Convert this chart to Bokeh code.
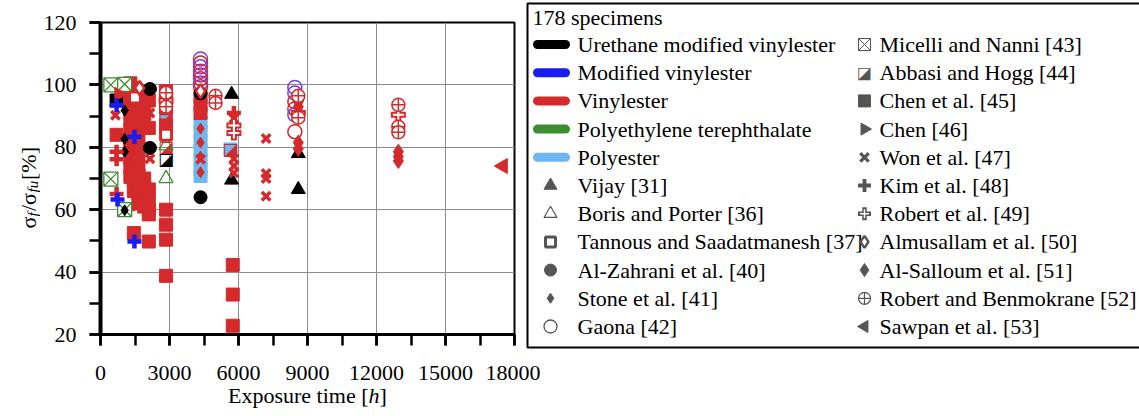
import math

from bokeh.core.properties import value
from bokeh.embed import file_html
from bokeh.layouts import column, row
from bokeh.models import ColumnDataSource, Range1d, SingleIntervalTicker
from bokeh.plotting import figure
from bokeh.resources import INLINE

# ---------------------------------------------------------------- data
# material of every specimen -> colour
MATERIAL_COLORS = {
    "UMV": "#000000",    # urethane modified vinylester
    "MV": "#1a1af2",     # modified vinylester
    "MV_open": "#7b3fd9",  # modified vinylester, open circles
    "VE": "#d42a2c",     # vinylester
    "PET": "#3c8c30",    # polyethylene terephthalate
    "PE": "#6db8f0",     # polyester
}
MATERIAL_KEYS = ["UMV", "MV", "VE", "PET", "PE"]
MATERIAL_NAMES = ["Urethane modified vinylester", "Modified vinylester", "Vinylester",
                  "Polyethylene terephthalate", "Polyester"]

# exposure time [h], retained strength [%], material
VIJAY_X = [5700, 5700, 8600, 8600]
VIJAY_Y = [97.0, 69.5, 66.5, 78.0]
VIJAY_M = ["UMV", "UMV", "UMV", "UMV"]

BORIS_X = [2850, 2850]
BORIS_Y = [70.0, 80.5]
BORIS_M = ["PET", "PET"]

TANNOUS_X = [2850, 2850, 1500]
TANNOUS_Y = [84.0, 92.5, 96.0]
TANNOUS_M = ["VE", "VE", "VE"]

ALZAHRANI_X = [2150, 2150, 4350, 4350]
ALZAHRANI_Y = [98.7, 79.8, 64.0, 97.3]
ALZAHRANI_M = ["UMV", "UMV", "UMV", "UMV"]

STONE_X = [1050, 1050, 1050, 1050, 4350, 4350, 4350, 4350]
STONE_Y = [91.8, 82.7, 78.6, 59.8, 86.0, 81.5, 77.0, 72.0]
STONE_M = ["UMV", "UMV", "UMV", "UMV", "VE", "VE", "VE", "VE"]

GAONA_X = [4350, 4350, 4350, 4350, 4350, 4350, 4350, 4350,
           8450, 8450, 8450, 8450, 8450, 8450]
GAONA_Y = [108.3, 107.0, 105.8, 104.4, 103.2, 102.0, 100.6, 99.4,
           99.2, 97.4, 94.6, 92.3, 90.4, 85.0]
GAONA_M = ["MV_open", "VE", "MV_open", "VE", "MV_open", "VE", "MV_open", "VE",
           "MV_open", "MV_open", "VE", "VE", "MV_open", "VE"]

MICELLI_X = [450, 1050, 450, 1050]
MICELLI_Y = [100.0, 100.2, 69.8, 60.0]
MICELLI_M = ["PET", "PET", "PET", "PET"]

ABBASI_X = [2850, 2850, 2850, 5650]
ABBASI_Y = [89.6, 80.2, 76.3, 79.3]
ABBASI_M = ["VE", "VE", "UMV", "VE"]

CHEN45_X = [700, 2850, 5650,
            4350, 4350, 4350, 4350, 4350, 4350, 4350,
            700,
            1300, 1300, 1300, 1300, 1300, 1300, 1300, 1300, 1300, 1300, 1300,
            1450, 1450, 1450, 1450, 1450, 1450, 1450, 1450, 1450, 1450, 1450, 1450,
            1650, 1650, 1650, 1650, 1650, 1650, 1650, 1650, 1650, 1650, 1650, 1650, 1650,
            1900, 1900, 1900, 1900, 1900, 1900, 1900, 1900,
            2100, 2100, 2100, 2100, 2100, 2100, 2100,
            2850, 2850, 2850, 2850, 2850, 2850, 2850,
            4350, 4350, 4350,
            5750, 5750, 5750]
CHEN45_Y = [95.0, 89.6, 79.3,
            88.0, 85.0, 82.0, 79.0, 76.0, 73.0, 70.8,
            84.0,
            100.5, 97.5, 94.5, 91.5, 88.5, 85.5, 82.5, 79.5, 76.5, 73.5, 70.5,
            99.0, 96.0, 93.0, 90.0, 87.0, 81.0, 78.0, 75.0, 72.0, 69.0, 66.0, 52.5,
            98.0, 95.0, 92.0, 89.0, 86.0, 83.0, 80.0, 77.0, 74.0, 71.0, 68.0, 65.0, 62.0,
            97.0, 94.0, 91.0, 88.0, 70.0, 67.0, 64.0, 61.0,
            95.0, 86.2, 66.5, 63.0, 60.0, 58.5, 49.8,
            98.0, 95.5, 87.0, 60.0, 55.2, 50.4, 38.8,
            96.0, 93.5, 91.0,
            42.3, 32.8, 22.8]
CHEN45_M = (["UMV", "PE", "PE"] + ["PE"] * 7 + ["VE"]
            + ["VE"] * 11 + ["VE"] * 12 + ["VE"] * 13 + ["VE"] * 8
            + ["VE"] * 7 + ["VE"] * 7 + ["VE"] * 3 + ["VE"] * 3)

CHEN46_X = [800, 1600]
CHEN46_Y = [97.0, 61.8]
CHEN46_M = ["VE", "VE"]

WON_X = [650, 1350, 1450, 1800, 2150, 2150, 1500, 4350,
         5800, 5800, 5800, 5800, 7200, 7200, 7200, 7200]
WON_Y = [90.3, 86.6, 90.0, 93.0, 91.0, 76.3, 74.0, 76.2,
         89.2, 76.3, 74.0, 71.8, 82.8, 71.6, 70.0, 64.3]
WON_M = ["VE"] * 16

KIM_X = [700, 700, 700, 5800, 700, 740, 1475, 1475]
KIM_Y = [78.6, 76.2, 65.0, 91.0, 93.5, 63.3, 83.4, 49.8]
KIM_M = ["VE", "VE", "VE", "VE", "MV", "MV", "MV", "MV"]

ROBERT_X = [5800, 5800, 8600, 12950, 2850]
ROBERT_Y = [87.0, 84.6, 91.0, 90.4, 95.0]
ROBERT_M = ["VE"] * 5

ALMUSALLAM_X = [2850, 4350, 8600, 1700]
ALMUSALLAM_Y = [97.0, 98.0, 95.0, 99.0]
ALMUSALLAM_M = ["VE"] * 4

ALSALLOUM_X = [12950, 12950, 12950, 8600, 8600, 8600]
ALSALLOUM_Y = [78.6, 77.0, 75.6, 81.5, 79.5, 93.0]
ALSALLOUM_M = ["VE"] * 6

ROBBEN_X = [12950, 12950, 12950, 5000, 5000, 8600, 8600, 2850, 2850]
ROBBEN_Y = [93.6, 86.6, 84.8, 96.5, 94.2, 96.5, 89.5, 97.5, 93.0]
ROBBEN_M = ["VE"] * 9

SAWPAN_X = [17500]
SAWPAN_Y = [74.0]
SAWPAN_M = ["VE"]

SPECIMEN_COUNT = "178 specimens"
STUDIES_COL1 = ["Vijay [31]", "Boris and Porter [36]", "Tannous and Saadatmanesh [37]",
                "Al-Zahrani et al. [40]", "Stone et al. [41]", "Gaona [42]"]
STUDIES_COL2 = ["Micelli and Nanni [43]", "Abbasi and Hogg [44]", "Chen et al. [45]",
                "Chen [46]", "Won et al. [47]", "Kim et al. [48]", "Robert et al. [49]",
                "Almusallam et al. [50]", "Al-Salloum et al. [51]",
                "Robert and Benmokrane [52]", "Sawpan et al. [53]"]
X_TICK_STEP = 3000
Y_TICK_STEP = 20

# ---------------------------------------------------------------- sizes
SERIF = "Liberation Serif"
GREY = "#555555"
PAGE_W, PAGE_H = 1139, 416
YTITLE_W = 40            # strip left of the chart holding the y title
XTITLE_H = 30            # room below the chart for the x title
XTITLE_OVERLAP = 14      # x-title strip slides up under the tick labels
MAIN_W = 500             # chart incl. tick labels
MAIN_H = PAGE_H - XTITLE_H
KEY_OVERLAP = 16         # key panel slides under the last tick label
KEY_X0 = YTITLE_W + MAIN_W - KEY_OVERLAP
KEY_W = PAGE_W - KEY_X0

# ---------------------------------------------------------------- chart
p = figure(width=MAIN_W, height=MAIN_H, title=None,
           x_range=Range1d(0, 18000), y_range=Range1d(20, 120),
           output_backend="svg", toolbar_location=None, frame_align=False,
           min_border_left=99 - YTITLE_W, min_border_right=YTITLE_W + MAIN_W - 514,
           min_border_top=22, min_border_bottom=MAIN_H - 334)
p.background_fill_color = "white"
p.border_fill_color = "white"
p.outline_line_color = "black"
p.outline_line_width = 2

xt = SingleIntervalTicker(interval=X_TICK_STEP, num_minor_ticks=2)
yt = SingleIntervalTicker(interval=Y_TICK_STEP, num_minor_ticks=2)
p.xaxis.ticker = xt
p.yaxis.ticker = yt
p.xgrid.ticker = xt
p.ygrid.ticker = yt
p.grid.grid_line_color = "#8c8c8c"
p.grid.grid_line_width = 1

for ax in (p.xaxis[0], p.yaxis[0]):
    ax.major_tick_in = 0
    ax.major_tick_out = 11
    ax.minor_tick_in = 0
    ax.minor_tick_out = 11
    ax.major_tick_line_width = 2.5
    ax.minor_tick_line_width = 2.5
    ax.major_tick_line_color = "black"
    ax.minor_tick_line_color = "black"
    ax.axis_line_color = "black"
    ax.major_label_text_font = SERIF
    ax.major_label_text_color = "black"
    ax.major_label_text_font_size = "22px"
p.xaxis.axis_line_width = 3
p.yaxis.axis_line_width = 4
p.xaxis.major_label_standoff = 20
p.yaxis.major_label_standoff = 13


def source(xs, ys, ms, **extra):
    data = dict(x=xs, y=ys, c=[MATERIAL_COLORS[m] for m in ms])
    data.update(extra)
    return ColumnDataSource(data)


# filled squares
p.scatter("x", "y", source=source(CHEN45_X, CHEN45_Y, CHEN45_M), marker="square",
          size=13, fill_color="c", line_color="c")
# crossed open squares
p.scatter("x", "y", source=source(MICELLI_X, MICELLI_Y, MICELLI_M), marker="square_x",
          size=14, fill_color="white", line_color="c", line_width=1.3)
# half-filled squares
p.text("x", "y", text="t", source=source(ABBASI_X, ABBASI_Y, ABBASI_M, t=["\u25EA"] * len(ABBASI_X)),
       text_font=value("DejaVu Sans"), text_font_size=value("17px"),
       text_align="center", text_baseline="middle", text_color="c")
# open triangles
p.scatter("x", "y", source=source(BORIS_X, BORIS_Y, BORIS_M), marker="triangle",
          size=14, fill_color="white", fill_alpha=0, line_color="c", line_width=1.3)
# squares with hollow centre
p.scatter("x", "y", source=source(TANNOUS_X, TANNOUS_Y, TANNOUS_M), marker="square",
          size=11, fill_color="white", line_color="c", line_width=3)
# open circles
p.scatter("x", "y", source=source(GAONA_X, GAONA_Y, GAONA_M), marker="circle",
          size=14, fill_alpha=0, line_color="c", line_width=1.5)
# filled circles
p.scatter("x", "y", source=source(ALZAHRANI_X, ALZAHRANI_Y, ALZAHRANI_M), marker="circle",
          size=13, fill_color="c", line_color="c")
# thin diamonds
p.scatter("x", "y", source=source(STONE_X, STONE_Y, STONE_M), marker="diamond",
          size=11, fill_color="c", line_color="c")
# filled triangles
p.scatter("x", "y", source=source(VIJAY_X, VIJAY_Y, VIJAY_M), marker="triangle",
          size=14, fill_color="c", line_color="c")
# right-pointing triangles
p.scatter("x", "y", source=source(CHEN46_X, CHEN46_Y, CHEN46_M), marker="triangle",
          angle=-math.pi / 2, size=14, fill_color="c", line_color="c")
# crosses
p.scatter("x", "y", source=source(WON_X, WON_Y, WON_M), marker="x",
          size=12, line_color="c", line_width=3.5)
# plus signs
p.scatter("x", "y", source=source(KIM_X, KIM_Y, KIM_M), marker="cross",
          size=14, line_color="c", line_width=4.5)
# outlined plus signs
robert_src = source(ROBERT_X, ROBERT_Y, ROBERT_M)
p.scatter("x", "y", source=robert_src, marker="cross", size=15, line_color="c", line_width=6)
p.scatter("x", "y", source=robert_src, marker="cross", size=11, line_color="white", line_width=2)
# open diamonds
p.scatter("x", "y", source=source(ALMUSALLAM_X, ALMUSALLAM_Y, ALMUSALLAM_M), marker="diamond",
          size=14, fill_color="white", line_color="c", line_width=2.5)
# filled diamonds
p.scatter("x", "y", source=source(ALSALLOUM_X, ALSALLOUM_Y, ALSALLOUM_M), marker="diamond",
          size=15, fill_color="c", line_color="c")
# circles with cross
p.scatter("x", "y", source=source(ROBBEN_X, ROBBEN_Y, ROBBEN_M), marker="circle_cross",
          size=13, fill_color="white", line_color="c", line_width=1.5)
# left-pointing triangles
p.scatter("x", "y", source=source(SAWPAN_X, SAWPAN_Y, SAWPAN_M), marker="triangle",
          angle=math.pi / 2, size=15, fill_color="c", line_color="c")


# ---------------------------------------------------------------- helper strips
def strip(width, height, x_range, y_range, **kw):
    f = figure(width=width, height=height, title=None, output_backend="svg",
               toolbar_location=None, x_range=x_range, y_range=y_range,
               min_border=0, frame_align=False, **kw)
    f.axis.visible = False
    f.grid.visible = False
    f.outline_line_color = None
    return f


def put(fig, text, x, y, size, style="normal", angle=0.0, align="left", font=SERIF,
        color="black", baseline="alphabetic"):
    fig.text(x=x if isinstance(x, list) else [x], y=y if isinstance(y, list) else [y],
             text=text if isinstance(text, list) else [text], angle=angle,
             text_font=value(font), text_font_size=value(size),
             text_font_style=style, text_align=align,
             text_baseline=baseline, text_color=color)


# ---------------------------------------------------------------- key panel
# coordinates of the key panel are page pixels: x to the right, y downwards
key = strip(KEY_W, MAIN_H, Range1d(KEY_X0, PAGE_W), Range1d(MAIN_H, 0),
            margin=(0, 0, 0, -KEY_OVERLAP))
key.background_fill_alpha = 0
key.border_fill_alpha = 0

ROW_Y0, ROW_H = 44.0, 28.2
rows = [ROW_Y0 + i * ROW_H for i in range(11)]
C1_KEY, C1_TXT = 550, 577
C2_KEY, C2_TXT = 864, 879

key.quad(left=527, right=PAGE_W + 20, top=3, bottom=347,
         fill_color="white", line_color="black", line_width=2)
put(key, SPECIMEN_COUNT, 532, 17, "22px", baseline="middle")
put(key, MATERIAL_NAMES + STUDIES_COL1, [C1_TXT] * 11, rows, "22px", baseline="middle")
put(key, STUDIES_COL2, [C2_TXT] * 11, rows, "22px", baseline="middle")

# material swatches
key.segment(x0=[537] * 5, y0=rows[:5], x1=[565] * 5, y1=rows[:5],
            line_color=[MATERIAL_COLORS[k] for k in MATERIAL_KEYS],
            line_width=9, line_cap="round")


def key_marker(x, y, marker, size=12, **kw):
    style = dict(fill_color=GREY, line_color=GREY, line_width=1)
    style.update(kw)
    key.scatter(x=[x], y=[y], marker=marker, size=size, **style)


# first column study markers
key_marker(C1_KEY, rows[5], "triangle", 13)
key_marker(C1_KEY, rows[6], "triangle", 13, fill_color="white", line_width=1.2)
key_marker(C1_KEY, rows[7], "square", 10, fill_color="white", line_width=3)
key_marker(C1_KEY, rows[8], "circle", 12)
key_marker(C1_KEY, rows[9], "diamond", 10)
key_marker(C1_KEY, rows[10], "circle", 13, fill_color="white", line_width=1.3)
# second column study markers
key_marker(C2_KEY, rows[0], "square_x", 12, fill_color="white", line_width=1)
put(key, "\u25EA", C2_KEY, rows[1], "16px", align="center", font="DejaVu Sans",
    color=GREY, baseline="middle")
key_marker(C2_KEY, rows[2], "square", 12)
key_marker(C2_KEY, rows[3], "triangle", 12, angle=-math.pi / 2)
key_marker(C2_KEY, rows[4], "x", 12, line_width=3.2)
key_marker(C2_KEY, rows[5], "cross", 13, line_width=3.8)
key_marker(C2_KEY, rows[6], "cross", 13, line_width=4.5)
key_marker(C2_KEY, rows[6], "cross", 9, line_color="white", line_width=1.5)
key_marker(C2_KEY, rows[7], "diamond", 12, fill_color="white", line_width=2.5)
key_marker(C2_KEY, rows[8], "diamond", 13)
key_marker(C2_KEY, rows[9], "circle_cross", 12, fill_color="white", line_width=1.2)
key_marker(C2_KEY, rows[10], "triangle", 12, angle=math.pi / 2)

# ---------------------------------------------------------------- axis titles
# y title: sigma_f / sigma_fu [%], read bottom to top
yfig = strip(YTITLE_W, MAIN_H, Range1d(0, YTITLE_W), Range1d(0, MAIN_H))
yfig.background_fill_color = "white"
up = math.pi / 2
put(yfig, "\u03c3", 28, 158, "22px", angle=up)
put(yfig, "f", 32, 170, "15px", style="italic", angle=up)
put(yfig, "/\u03c3", 28, 175.5, "22px", angle=up)
put(yfig, "fu", 32, 194, "15px", style="italic", angle=up)
put(yfig, " [%]", 28, 206.5, "22px", angle=up)

# x title: Exposure time [h]; the strip is transparent and overlaps the
# bottom of the chart so that the title has room above its baseline
XFIG_H = XTITLE_H + XTITLE_OVERLAP
xfig = strip(PAGE_W, XFIG_H, Range1d(0, PAGE_W), Range1d(0, XFIG_H),
             margin=(-XTITLE_OVERLAP, 0, 0, 0))
xfig.background_fill_alpha = 0
xfig.border_fill_alpha = 0
put(xfig, "Exposure time [", 368, 21, "22px", align="right")
put(xfig, "h", 368, 21, "22px", style="italic")
put(xfig, "]", 379, 21, "22px")

layout = column(row(yfig, p, key, spacing=0), xfig, spacing=0)
open("out.html", "w").write(file_html(layout, INLINE))
